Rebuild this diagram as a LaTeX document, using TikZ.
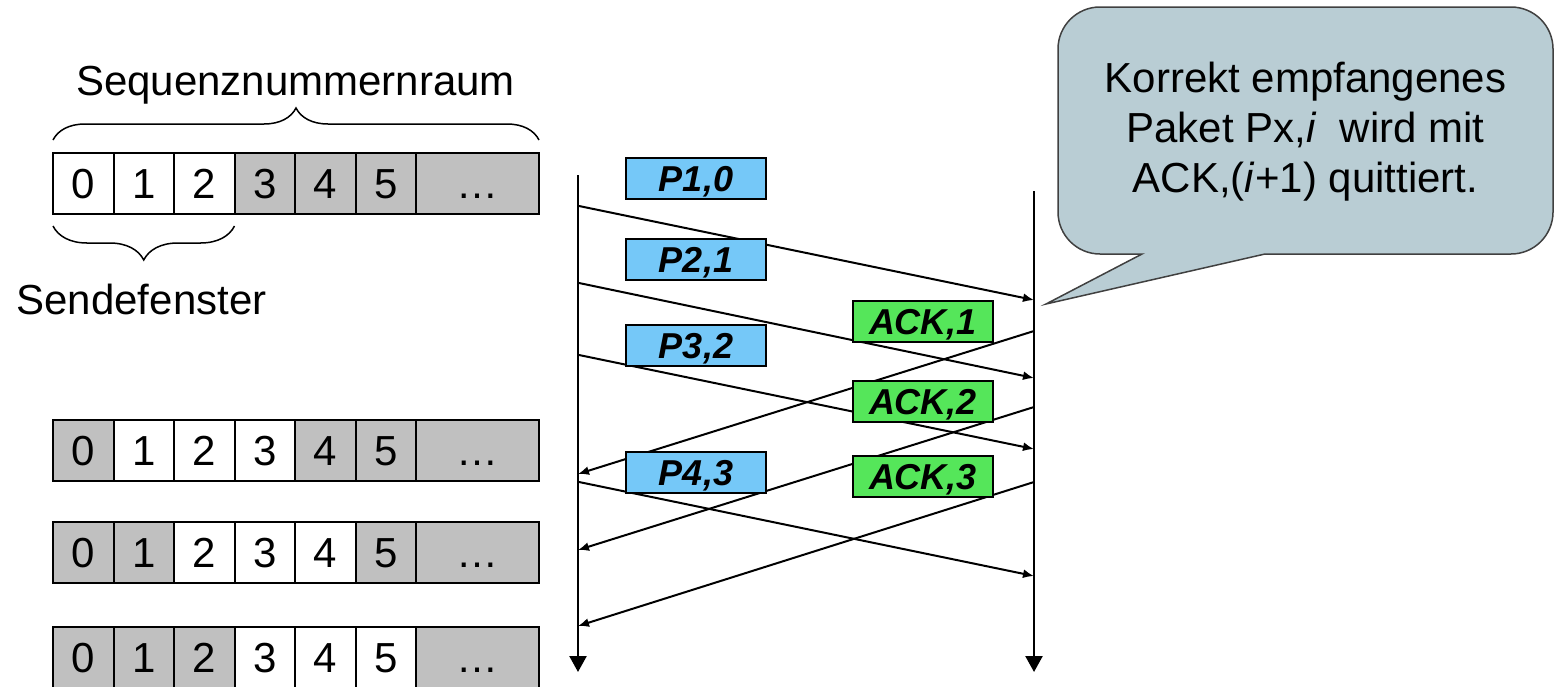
\documentclass[tikz,border=0pt]{standalone}
\usepackage{fontspec}
\setmainfont{Liberation Sans}
\usetikzlibrary{positioning,arrows.meta,decorations.pathreplacing}
\definecolor{pktblue}{RGB}{117,200,248}
\definecolor{ackgreen}{RGB}{85,230,90}
\definecolor{cellgray}{RGB}{192,192,192}
\definecolor{notebg}{RGB}{185,205,212}
\tikzstyle{cell} = [draw, line width=1pt, rectangle, outer sep=0pt, inner sep=0pt, minimum width=30.25pt, minimum height=30.5pt, text height=15pt, text depth=0pt, font=\fontsize{21}{25}\selectfont]
\tikzstyle{pkt} = [draw, line width=1pt, fill=pktblue, rectangle, inner sep=0pt, minimum width=70pt, minimum height=20.5pt, text height=13pt, text depth=0pt, font=\fontsize{18}{22}\selectfont\bfseries\itshape]
\tikzstyle{ack} = [pkt, fill=ackgreen]
\tikzstyle{msg} = [->, line width=1pt]
\tikzstyle{life} = [-{Triangle[length=8pt,width=8.5pt]}, line width=1.2pt]
\tikzstyle{lbl} = [inner sep=0pt, font=\fontsize{21}{25}\selectfont]
\tikzstyle{brc} = [decorate, line width=0.75pt]
\tikzstyle{note} = [fill=notebg, draw=black!75, line width=0.75pt]

\begin{document}
\begin{tikzpicture}[x=0.5pt, y=-0.5pt, >={Latex[length=5.5pt,width=4.5pt]}]
	\useasboundingbox (0,0) rectangle (1556,686);

	% sequence number rows, window of three
	\foreach \k/\y in {0/183.5, 1/450.5, 2/552.5, 3/657.5} {
		\foreach \i in {0,...,5} {
			\pgfmathtruncatemacro\inwin{and(\i>=\k,\i<=\k+2)}
			\ifnum\inwin=1 \def\cellfill{white}\else\def\cellfill{cellgray}\fi
			\node (c\k\i) [cell, fill=\cellfill] at ({83.25+60.5*\i},\y) {\i};
		}
		\node (c\k more) [cell, fill=cellgray, minimum width=61.5pt, right=0pt of c\k5] {…};
	}

	\node (space) [lbl, anchor=base] at (295.5,95) {Sequenznummernraum};
	\draw [brc, decoration={brace, amplitude=16pt}] ([yshift=6.5pt]c00.north west) -- ([yshift=6.5pt]c0more.north east);
	\draw [brc, decoration={brace, amplitude=17pt}] ([yshift=-6pt]c02.south east) -- ([yshift=-6pt]c00.south west);
	\node (window) [lbl, anchor=base] at (141.5,314) {Sendefenster};

	% lifelines
	\coordinate (l0) at (578,175);
	\coordinate (l9) at (578,672);
	\coordinate (r0) at (1034,191);
	\coordinate (r9) at (1034,672);
	\draw [life] (l0) -- (l9);
	\draw [life] (r0) -- (r9);

	% packets and acks
	\foreach \n/\ys/\yr in {1/206/300, 2/283/378, 3/355/449, 4/482/576} {
		\coordinate (ps\n) at (579,\ys);
		\coordinate (pr\n) at (1034,\yr);
		\draw [msg] (ps\n) -- (pr\n);
	}
	\foreach \n/\ys/\yr in {1/331/474, 2/407/550, 3/482/626} {
		\coordinate (as\n) at (1034,\ys);
		\coordinate (ar\n) at (578,\yr);
		\draw [msg] (as\n) -- (ar\n);
	}

	\node (p1) [pkt] at (696,178.5) {P1,0};
	\node (p2) [pkt] at (696,259) {P2,1};
	\node (p3) [pkt] at (696,345.5) {P3,2};
	\node (p4) [pkt] at (696,472) {P4,3};
	\node (k1) [ack] at (923,321) {ACK,1};
	\node (k2) [ack] at (923,401) {ACK,2};
	\node (k3) [ack] at (923,476.5) {ACK,3};

	% callout
	\coordinate (tip) at (1046,304);
	\draw [note] (1100,7) -- (1511,7) arc[start angle=-90, end angle=0, radius=42]
		-- (1553,212) arc[start angle=0, end angle=90, radius=42]
		-- (1265,254) -- (tip) -- (1142,254)
		-- (1100,254) arc[start angle=90, end angle=180, radius=42]
		-- (1058,49) arc[start angle=180, end angle=270, radius=42] -- cycle;
	\node (txt) [lbl, align=center] at (1305.5,132) {Korrekt empfangenes\\Paket Px,\textit{i}~ wird mit\\ACK,(\textit{i}+1) quittiert.};
\end{tikzpicture}
\end{document}
